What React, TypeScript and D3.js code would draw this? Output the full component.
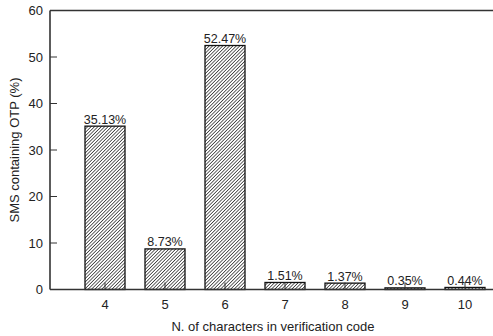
import React from 'react';
import * as d3 from 'd3';

// characters in the verification code and share of SMS (%)
const lengths = [4, 5, 6, 7, 8, 9, 10];
const shares = [35.13, 8.73, 52.47, 1.51, 1.37, 0.35, 0.44];
const shareLabels = ['35.13%', '8.73%', '52.47%', '1.51%', '1.37%', '0.35%', '0.44%'];
const yTicks = [0, 10, 20, 30, 40, 50, 60];

const W = 493;
const H = 336;
const left = 50;
const right = 496;
const top = 10.5;
const bottom = 289.5;

export default function App() {
	const x = d3.scaleLinear().domain([4 - 55 / 60, 10 + 31 / 60]).range([left, right]);
	const y = d3.scaleLinear().domain([0, 60]).range([bottom, top]);
	const barW = x(4 + 2 / 3) - x(4);
	const font = 'Arial, "Liberation Sans", sans-serif';

	return (
		<div style={{ position: 'fixed', left: 0, top: 0 }}>
			<svg width={W} height={H} style={{ display: 'block' }} fontFamily={font}>
				<defs>
					<pattern id="hatch" patternUnits="userSpaceOnUse" width={2.4} height={2.4}
						patternTransform="rotate(45)">
						<rect width={2.4} height={2.4} fill="#fff" />
						<line x1={0} y1={-1} x2={0} y2={4} stroke="#111" strokeWidth={1.3} />
					</pattern>
				</defs>
				<rect width={W} height={H} fill="#fff" />

				{/* bars */}
				{lengths.map((d, i) => (
					<rect key={d}
						x={x(d) - barW / 2}
						y={y(shares[i])}
						width={barW}
						height={y(0) - y(shares[i])}
						fill="url(#hatch)"
						stroke="#111"
						strokeWidth={1.3} />
				))}

				{/* value labels */}
				{lengths.map((d, i) => (
					<text key={'l' + d} x={x(d)} y={y(shares[i]) - 2.5} textAnchor="middle"
						fontSize={12.5} fill="#222">{shareLabels[i]}</text>
				))}

				{/* frame */}
				<line x1={left} x2={right} y1={top} y2={top} stroke="#333" strokeWidth={1.6} />
				<line x1={left} x2={left} y1={top} y2={bottom} stroke="#333" strokeWidth={1.6} />
				<line x1={left} x2={right} y1={bottom} y2={bottom} stroke="#333" strokeWidth={1.6} />

				{/* y ticks */}
				{yTicks.map(t => (
					<g key={'y' + t}>
						{t > 0 && t < 60 && <line x1={left} x2={left + 7} y1={y(t)} y2={y(t)} stroke="#333" strokeWidth={1} />}
						<text x={left - 7} y={y(t)} dy="0.35em" textAnchor="end" fontSize={13} fill="#222">{t}</text>
					</g>
				))}

				{/* x ticks */}
				{lengths.map(d => (
					<g key={'x' + d}>
						<line x1={x(d)} x2={x(d)} y1={bottom} y2={bottom - 7} stroke="#333" strokeWidth={1} />
						<text x={x(d)} y={309} textAnchor="middle" fontSize={13} fill="#222">{d}</text>
					</g>
				))}

				<text x={(left + right) / 2} y={331} textAnchor="middle" fontSize={13} fill="#222">
					N. of characters in verification code
				</text>
				<text transform={`translate(19, ${(top + bottom) / 2}) rotate(-90)`} textAnchor="middle"
					fontSize={13} fill="#222">SMS containing OTP (%)</text>
			</svg>
		</div>
	);
}
